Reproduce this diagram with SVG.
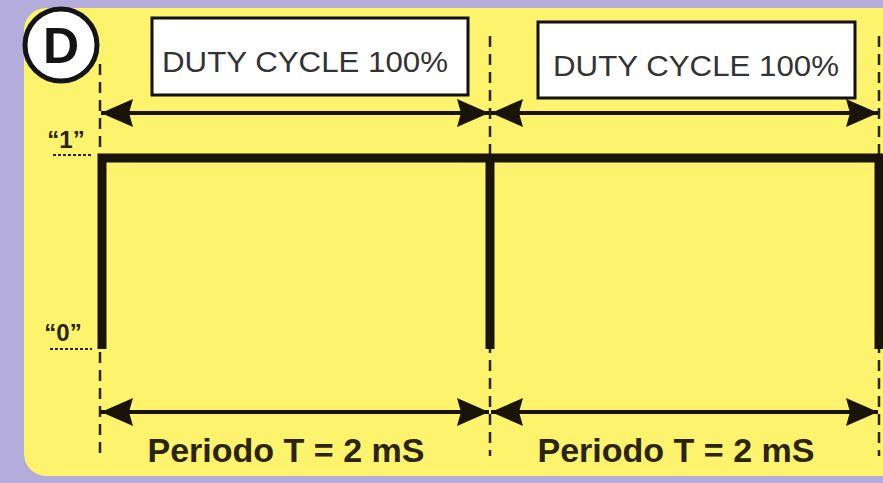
<svg xmlns="http://www.w3.org/2000/svg" width="883" height="483" viewBox="0 0 883 483">
  <defs>
    <marker id="head" viewBox="0 0 32 30" refX="32" refY="15" markerWidth="32" markerHeight="30" markerUnits="userSpaceOnUse" orient="auto-start-reverse">
      <path d="M0,1 L32,15 L0,29 L4,15 Z" fill="#1a1408"/>
    </marker>
  </defs>
  <style>
    .guide { stroke: #2a2410; stroke-width: 2.5; stroke-dasharray: 11 7; fill: none; }
    .dots { stroke: #2a2410; stroke-width: 2; stroke-dasharray: 3 2; fill: none; }
    .dim { stroke: #1a1408; stroke-width: 4; fill: none; marker-start: url(#head); marker-end: url(#head); }
    .signal { stroke: #1a1408; stroke-width: 9; fill: none; stroke-linejoin: miter; }
    .box rect { fill: #ffffff; stroke: #111111; stroke-width: 3; }
    .box text { font-family: "Liberation Sans", Arial, sans-serif; font-size: 29px; fill: #333333; text-anchor: middle; }
    .period { font-family: "Liberation Sans", Arial, sans-serif; font-weight: bold; font-size: 33px; fill: #2a2410; text-anchor: middle; }
    .level { font-family: "Liberation Sans", Arial, sans-serif; font-weight: bold; font-size: 24px; fill: #2a2410; text-anchor: middle; }
  </style>

  <!-- background and panel -->
  <rect x="0" y="0" width="883" height="483" fill="#b4addb"/>
  <rect x="24" y="8" width="900" height="468" rx="22" ry="22" fill="#fdf36c"/>

  <!-- panel badge -->
  <g id="badge">
    <circle cx="61" cy="45" r="36" fill="#ffffff" stroke="#141414" stroke-width="5"/>
    <text x="61" y="63" font-family="Liberation Sans, Arial, sans-serif" font-weight="bold" font-size="50" fill="#141414" text-anchor="middle">D</text>
  </g>

  <!-- logic levels -->
  <g id="level-1">
    <text class="level" x="66" y="148">“1”</text>
    <line class="dots" x1="53" y1="155" x2="92" y2="155"/>
  </g>
  <g id="level-0">
    <text class="level" x="63" y="341">“0”</text>
    <line class="dots" x1="50" y1="349" x2="92" y2="349"/>
  </g>

  <!-- duty cycle labels -->
  <g id="duty-1" class="box">
    <rect x="152" y="18" width="316" height="77"/>
    <text x="305" y="72" textLength="286" lengthAdjust="spacingAndGlyphs">DUTY CYCLE 100%</text>
  </g>
  <g id="duty-2" class="box">
    <rect x="538" y="22" width="317" height="76"/>
    <text x="696" y="76" textLength="286" lengthAdjust="spacingAndGlyphs">DUTY CYCLE 100%</text>
  </g>

  <!-- period labels -->
  <g id="period-1">
    <text class="period" x="286" y="462" textLength="277" lengthAdjust="spacingAndGlyphs">Periodo T = 2 mS</text>
  </g>
  <g id="period-2">
    <text class="period" x="676" y="462" textLength="277" lengthAdjust="spacingAndGlyphs">Periodo T = 2 mS</text>
  </g>

  <!-- connectors: guides, dimension arrows, waveform -->
  <g id="connectors">
    <line class="guide" x1="100" y1="64" x2="100" y2="456"/>
    <line class="guide" x1="490" y1="36" x2="490" y2="456"/>
    <line class="guide" x1="879" y1="36" x2="879" y2="456"/>

    <line class="dim" x1="101" y1="113" x2="489" y2="113"/>
    <line class="dim" x1="491" y1="113" x2="878" y2="113"/>
    <line class="dim" x1="101" y1="412" x2="489" y2="412"/>
    <line class="dim" x1="491" y1="412" x2="878" y2="412"/>

    <path class="signal" d="M102,349 V158 H890"/>
    <line class="signal" x1="490" y1="158" x2="490" y2="349"/>
    <line class="signal" x1="879" y1="158" x2="879" y2="349"/>
  </g>
</svg>
